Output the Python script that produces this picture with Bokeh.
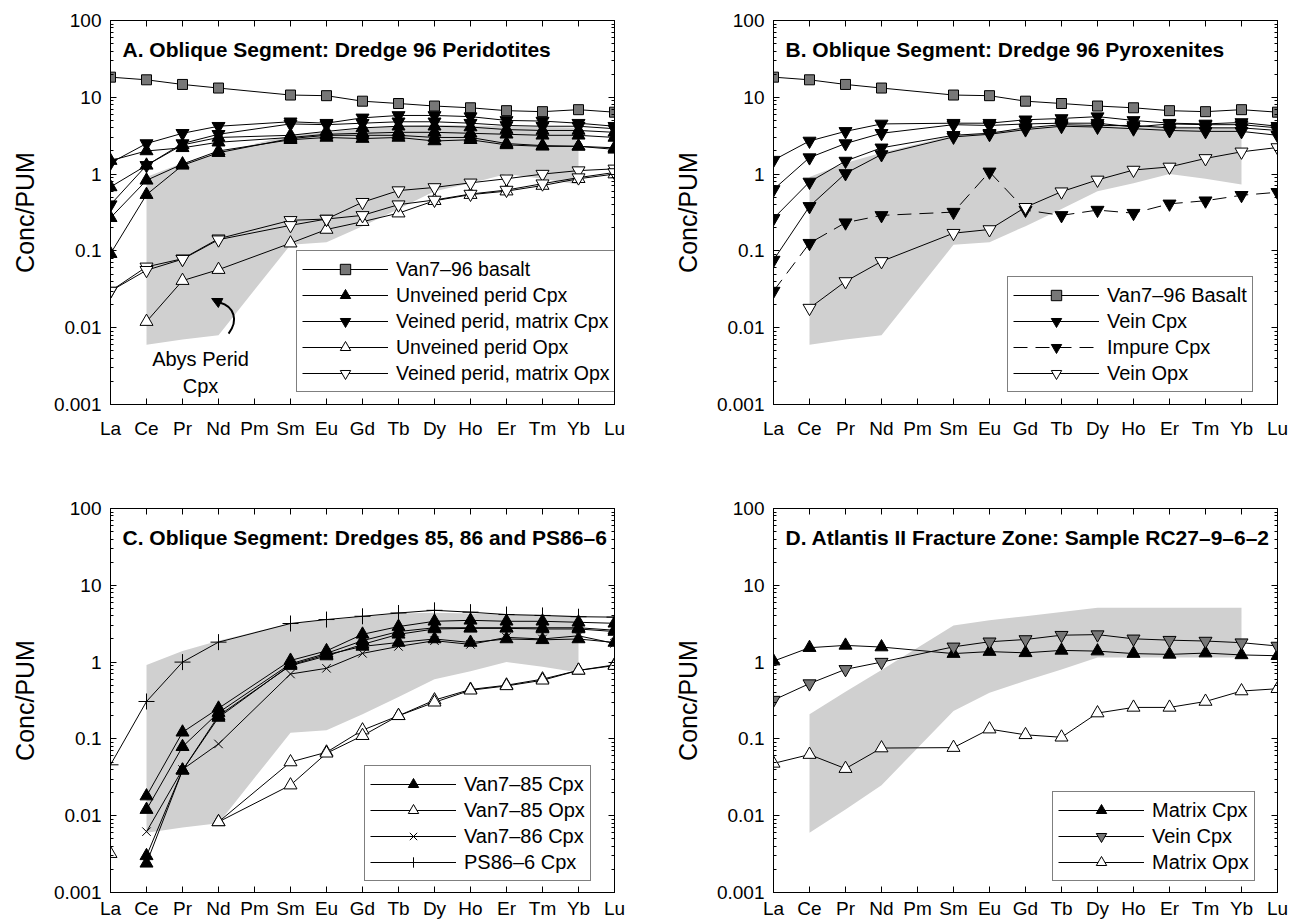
import numpy as np
from bokeh.plotting import figure
from bokeh.models import (Range1d, FixedTicker, LinearAxis, LogAxis, Legend, LegendItem,
                          Label, PrintfTickFormatter, Arrow, NormalHead)
from bokeh.layouts import column, row
from bokeh.embed import file_html
from bokeh.resources import INLINE

# ---------------------------------------------------------------- data
ELEMENTS = ["La", "Ce", "Pr", "Nd", "Pm", "Sm", "Eu", "Gd", "Tb", "Dy", "Ho", "Er", "Tm", "Yb", "Lu"]
REE = ["La", "Ce", "Pr", "Nd", "Sm", "Eu", "Gd", "Tb", "Dy", "Ho", "Er", "Tm", "Yb", "Lu"]
Y_TICKS = [0.001, 0.01, 0.1, 1, 10, 100]
Y_MINOR = [m * t for t in [0.001, 0.01, 0.1, 1, 10] for m in range(2, 10)]

FIELD_ELEMENTS = ["Ce", "Pr", "Nd", "Sm", "Eu", "Gd", "Tb", "Dy", "Ho", "Er", "Tm", "Yb"]
ABYSSAL_TOP = [0.92, 1.4, 1.9, 3.2, 3.5, 3.9, 4.3, 4.4, 4.3, 4.2, 4.1, 4.0]
ABYSSAL_BOT = [0.006, 0.007, 0.008, 0.12, 0.13, 0.21, 0.35, 0.6, 0.76, 1.0, 0.87, 0.73]
ATLANTIS_TOP = [0.21, 0.41, 0.79, 3.0, 3.5, 3.95, 4.5, 5.1, 5.1, 5.1, 5.1, 5.1]
ATLANTIS_BOT = [0.006, 0.012, 0.025, 0.23, 0.4, 0.57, 0.8, 1.15, 1.15, 1.15, 1.15, 1.15]

BASALT_96 = [18.3, 16.9, 14.7, 13.2, 10.7, 10.5, 8.9, 8.3, 7.7, 7.3, 6.7, 6.5, 6.9, 6.4]

A_UNVEINED_CPX = [
    [1.5, 2.0, 2.2, 2.6, 3.0, 3.3, 3.4, 3.5, 3.5, 3.4, 3.3, 3.2, 3.2, 3.0],
    [0.68, 1.3, 2.4, 3.0, 3.2, 3.6, 4.0, 4.2, 4.2, 4.1, 3.8, 3.7, 3.7, 3.5],
    [0.27, 0.83, 1.35, 2.0, 2.8, 3.0, 2.9, 3.0, 2.7, 2.8, 2.4, 2.3, 2.3, 2.1],
    [0.092, 0.54, 1.3, 1.9, 2.9, 3.2, 3.2, 3.2, 3.0, 3.0, 2.5, 2.35, 2.3, 2.2],
]
A_VEINED_CPX = [
    [1.4, 2.5, 3.4, 4.2, 4.8, 4.6, 5.4, 5.8, 5.8, 5.6, 5.0, 4.9, 4.6, 4.2],
    [0.40, 1.3, 2.5, 3.3, 4.5, 4.4, 4.6, 4.8, 4.8, 4.6, 4.3, 4.2, 4.2, 3.9],
]
A_UNVEINED_OPX = [
    [None, 0.012, 0.041, 0.057, 0.126, 0.19, 0.24, 0.31, 0.45, 0.54, 0.6, 0.71, 0.87, 1.0],
]
A_VEINED_OPX = [
    [0.030, 0.062, 0.079, 0.144, 0.25, 0.26, 0.43, 0.61, 0.67, 0.77, 0.87, 1.0, 1.11, 1.17],
    [0.030, 0.056, 0.078, 0.14, 0.215, 0.26, 0.29, 0.40, 0.46, 0.55, 0.62, 0.75, 0.9, 1.05],
]

B_VEIN_CPX = [
    [1.52, 2.7, 3.6, 4.5, 4.6, 4.6, 5.1, 5.3, 5.6, 5.0, 4.6, 4.5, 4.7, 4.2],
    [0.63, 1.64, 2.5, 3.4, 4.4, 4.3, 4.5, 4.6, 4.6, 4.1, 4.5, 4.4, 4.4, 4.0],
    [0.265, 0.79, 1.48, 2.2, 3.2, 3.4, 4.0, 4.4, 4.3, 4.3, 4.0, 4.0, 4.0, 3.7],
    [0.076, 0.38, 1.02, 1.8, 3.05, 3.3, 3.8, 4.2, 4.1, 3.9, 3.7, 3.6, 3.6, 3.2],
]
B_IMPURE_CPX = [0.030, 0.126, 0.233, 0.29, 0.32, 1.07, 0.34, 0.29, 0.34, 0.31, 0.41, 0.45, 0.53, 0.58]
B_VEIN_OPX = [None, 0.018, 0.040, 0.073, 0.17, 0.19, 0.37, 0.59, 0.84, 1.13, 1.24, 1.6, 1.95, 2.22]

C_85_CPX = [
    [None, 0.018, 0.122, 0.25, 1.05, 1.4, 2.3, 2.9, 3.4, 3.5, 3.4, 3.4, 3.3, 3.2],
    [None, 0.012, 0.079, 0.22, 0.95, 1.3, 1.9, 2.5, 2.8, 2.8, 2.8, 2.8, 2.8, 2.6],
    [None, 0.003, 0.039, 0.20, 0.9, 1.2, 1.7, 2.3, 2.7, 2.75, 2.75, 2.7, 2.7, 2.5],
    [None, 0.0024, 0.039, 0.19, 0.92, 1.25, 1.6, 1.8, 2.0, 1.8, 2.0, 1.95, 2.0, 1.8],
]
C_85_OPX = [
    [0.0032, None, None, 0.0083, 0.050, 0.067, 0.13, 0.20, 0.32, 0.44, 0.50, 0.60, 0.78, 0.92],
    [None, None, None, 0.0083, 0.025, 0.065, 0.11, 0.20, 0.30, 0.43, 0.49, 0.58, 0.78, 0.90],
]
C_86_CPX = [
    [None, 0.0062, 0.040, 0.086, 0.70, 0.83, 1.3, 1.6, 1.9, 1.7, 2.1, 2.0, 2.2, 1.75],
]
C_PS86_CPX = [
    [0.046, 0.307, 1.0, 1.82, 3.18, 3.58, 3.95, 4.36, 4.72, 4.47, 4.16, 4.05, 3.9, 3.85],
]

D_MATRIX_CPX = [1.03, 1.54, 1.65, 1.57, 1.29, 1.37, 1.32, 1.42, 1.39, 1.29, 1.26, 1.31, 1.24, 1.21]
D_VEIN_CPX = [0.32, 0.525, 0.805, 1.0, 1.58, 1.84, 1.97, 2.24, 2.28, 2.01, 1.93, 1.88, 1.79, 1.62]
D_MATRIX_OPX = [0.048, 0.0625, 0.041, 0.076, 0.077, 0.134, 0.113, 0.105, 0.217, 0.257, 0.257, 0.307, 0.42, 0.45]

# ---------------------------------------------------------------- styling
FONT = "Liberation Sans"
GRAY_FIELD = "#d0d0d0"
GRAY_MARK = "#777777"
XPOS = {e: i for i, e in enumerate(ELEMENTS)}


def make_panel(width, height, bl, br, bt, bb, xstandoff, title, ftop, fbot, groups,
               legend_xy, legend_font="20px"):
    p = figure(width=width, height=height,
               x_range=Range1d(0, len(ELEMENTS) - 1), y_range=Range1d(0.001, 100),
               y_axis_type="log", output_backend="svg", toolbar_location=None,
               min_border_left=bl, min_border_right=br, min_border_top=bt, min_border_bottom=bb,
               background_fill_color="white", border_fill_color="white")
    p.grid.visible = False
    p.outline_line_color = "black"
    p.outline_line_width = 1

    fx = [XPOS[e] for e in FIELD_ELEMENTS]
    p.patch(fx + fx[::-1], list(ftop) + list(fbot)[::-1], fill_color=GRAY_FIELD, line_color=None)

    xa = p.xaxis[0]
    xa.ticker = FixedTicker(ticks=list(range(len(ELEMENTS))))
    xa.major_label_overrides = {i: e for i, e in enumerate(ELEMENTS)}
    ya = p.yaxis[0]
    ya.ticker = FixedTicker(ticks=Y_TICKS, minor_ticks=Y_MINOR)
    ya.formatter = PrintfTickFormatter(format="%g")
    for ax in (xa, ya):
        ax.axis_line_color = "black"
        ax.major_tick_in = 6
        ax.major_tick_out = 0
        ax.minor_tick_in = 3
        ax.minor_tick_out = 0
        ax.major_label_text_font = FONT
        ax.major_label_text_font_size = "19px"
        ax.major_label_text_color = "black"
    xa.minor_tick_line_color = None
    xa.major_label_standoff = xstandoff
    ya.major_label_standoff = 9
    ya.axis_label = "Conc/PUM"
    ya.axis_label_text_font = FONT
    ya.axis_label_text_font_size = "25px"
    ya.axis_label_text_font_style = "normal"
    ya.axis_label_text_color = "black"
    ya.axis_label_standoff = 12

    ra = LogAxis(ticker=FixedTicker(ticks=Y_TICKS, minor_ticks=Y_MINOR),
                 major_label_text_font_size="1px", major_label_text_alpha=0,
                 major_label_standoff=0,
                 major_tick_in=6, major_tick_out=0, minor_tick_in=3, minor_tick_out=0,
                 axis_line_color="black")
    p.add_layout(ra, "right")
    ta = LinearAxis(ticker=FixedTicker(ticks=list(range(len(ELEMENTS)))),
                    major_label_text_font_size="1px", major_label_text_alpha=0,
                    major_label_standoff=0,
                    major_tick_in=6, major_tick_out=0, minor_tick_line_color=None,
                    axis_line_color="black")
    p.add_layout(ta, "above")

    xs = [XPOS[e] for e in REE]
    line_rs, mark_rs = [], []
    for g in groups:
        lrs = []
        for vals in g["series"]:
            y = np.array([np.nan if v is None else v for v in vals], dtype=float)
            lrs.append(p.line(xs, y, line_color="black", line_width=1, line_dash=g["dash"]))
        line_rs.append(lrs)
    for g in groups:
        mrs = []
        for vals in g["series"]:
            y = np.array([np.nan if v is None else v for v in vals], dtype=float)
            mrs.append(p.scatter(xs, y, marker=g["marker"], size=g["size"],
                                 fill_color=g["fill"], line_color="black", line_width=1))
        mark_rs.append(mrs)

    items = [LegendItem(label=g["label"], renderers=[l[0], m[0]])
             for g, l, m in zip(groups, line_rs, mark_rs)]
    leg = Legend(items=items, location=legend_xy,
                 border_line_color="black", border_line_width=1, background_fill_alpha=1,
                 label_text_font=FONT, label_text_font_size=legend_font,
                 label_text_color="black",
                 glyph_width=86, glyph_height=26, label_height=26, label_standoff=8,
                 spacing=0, padding=5, margin=0)
    p.add_layout(leg)

    p.add_layout(Label(x=12, y=384 - 29, x_units="screen", y_units="screen", text=title,
                       text_font=FONT, text_font_size="21px", text_font_style="bold",
                       text_baseline="middle", text_color="black"))
    return p


def grp(label, series, marker, fill, size=13, dash="solid"):
    return dict(label=label, series=series, marker=marker, fill=fill, size=size, dash=dash)


pA = make_panel(645, 460, 110, 31, 20, 56, 13, "A. Oblique Segment: Dredge 96 Peridotites",
                ABYSSAL_TOP, ABYSSAL_BOT,
                [grp("Van7\u201396 basalt", [BASALT_96], "square", GRAY_MARK, 10),
                 grp("Unveined perid Cpx", A_UNVEINED_CPX, "triangle", "black"),
                 grp("Veined perid, matrix Cpx", A_VEINED_CPX, "inverted_triangle", "black"),
                 grp("Unveined perid Opx", A_UNVEINED_OPX, "triangle", "white"),
                 grp("Veined perid, matrix Opx", A_VEINED_OPX, "inverted_triangle", "white")],
                (186, 12), "19.5px")
pA.add_layout(Label(x=2.5, y=0.0026, text="Abys Perid\nCpx", text_align="center",
                    text_baseline="middle", text_font=FONT, text_font_size="20px",
                    text_color="black"))
pA.bezier(x0=[3.28], y0=[0.0084], x1=[3.03], y1=[0.0213], cx0=[3.56], cy0=[0.0124],
          cx1=[3.44], cy1=[0.0189], line_color="black", line_width=2)
pA.add_layout(Arrow(end=NormalHead(size=10, fill_color="black", line_color="black"),
                    x_start=3.03, y_start=0.0213, x_end=2.81, y_end=0.024,
                    line_color="black", line_width=2))

pB = make_panel(646, 460, 128, 14, 20, 56, 13, "B. Oblique Segment: Dredge 96 Pyroxenites",
                ABYSSAL_TOP, ABYSSAL_BOT,
                [grp("Van7\u201396 Basalt", [BASALT_96], "square", GRAY_MARK, 10),
                 grp("Vein Cpx", B_VEIN_CPX, "inverted_triangle", "black"),
                 grp("Impure Cpx", [B_IMPURE_CPX], "inverted_triangle", "black", 13, "14 8"),
                 grp("Vein Opx", [B_VEIN_OPX], "inverted_triangle", "white")],
                (234, 12))

pC = make_panel(645, 462, 110, 31, 48, 30, 5, "C. Oblique Segment: Dredges 85, 86 and PS86\u20136",
                ABYSSAL_TOP, ABYSSAL_BOT,
                [grp("Van7\u201385 Cpx", C_85_CPX, "triangle", "black"),
                 grp("Van7\u201385 Opx", C_85_OPX, "triangle", "white"),
                 grp("Van7\u201386 Cpx", C_86_CPX, "x", "black", 12),
                 grp("PS86\u20136 Cpx", C_PS86_CPX, "cross", "black", 16)],
                (254, 11))

pD = make_panel(646, 462, 128, 14, 48, 30, 5, "D. Atlantis II Fracture Zone: Sample RC27\u20139\u20136\u20132",
                ATLANTIS_TOP, ATLANTIS_BOT,
                [grp("Matrix Cpx", [D_MATRIX_CPX], "triangle", "black"),
                 grp("Vein Cpx", [D_VEIN_CPX], "inverted_triangle", GRAY_MARK),
                 grp("Matrix Opx", [D_MATRIX_OPX], "triangle", "white")],
                (279, 11))

layout = column(row(pA, pB), row(pC, pD))
open("out.html", "w").write(file_html(layout, INLINE, title="REE patterns"))
